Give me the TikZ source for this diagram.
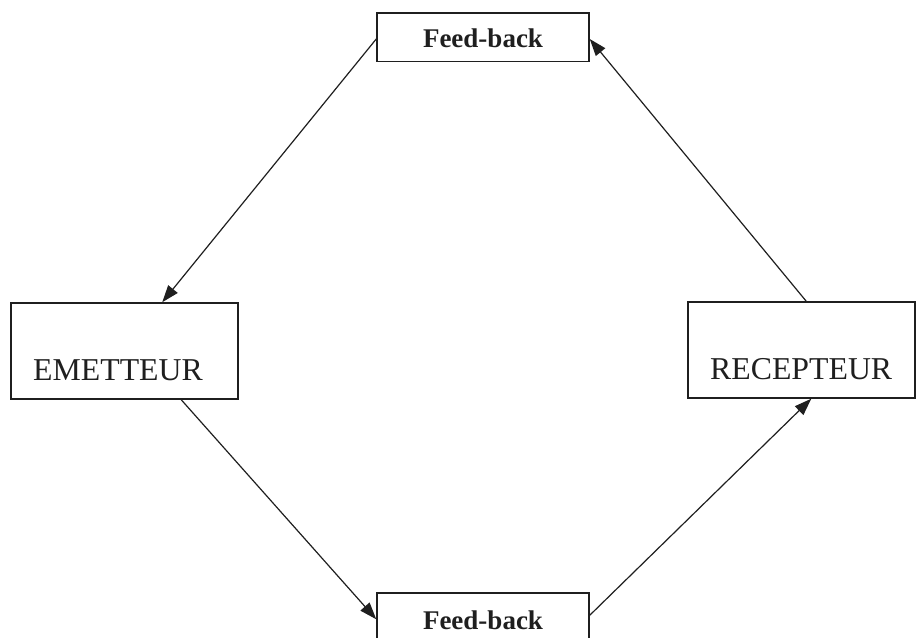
\documentclass[tikz,border=0pt]{standalone}
\usepackage{fontspec}
\setmainfont{Liberation Serif}
\usetikzlibrary{arrows.meta}
\begin{document}
\begin{tikzpicture}[x=1pt,y=-1pt,
  ink/.style={color=black!88},
  box/.style={draw=black!88, line width=1.5pt, rectangle, inner sep=0pt},
  flow/.style={ink, line width=1.2pt, -{Triangle[length=17pt,width=12pt]}},
  bigtext/.style={ink, inner sep=0pt, font=\fontsize{31.8}{36}\selectfont},
  fbtext/.style={ink, inner sep=0pt, font=\fontsize{27}{30}\selectfont\bfseries}]
  \clip (0,0) rectangle (918,637);
  \fill[white] (0,0) rectangle (918,637);

  % the four boxes
  \node[box, minimum width=212pt, minimum height=48.5pt] (fbtop) at (483,37) {};
  \node[box, minimum width=212pt, minimum height=48.5pt] (fbbot) at (483,617.25) {};
  \node[box, minimum width=227pt, minimum height=96pt] (em) at (124.5,351) {};
  \node[box, minimum width=227pt, minimum height=96pt] (rc) at (801.5,350) {};

  % labels
  \node[fbtext, anchor=base] (fbtopt) at (483,47) {Feed-back};
  \node[fbtext, anchor=base] (fbbott) at (483,629) {Feed-back};
  \node[bigtext, anchor=base west] (emt) at (33,380) {EMETTEUR};
  \node[bigtext, anchor=base west] (rct) at (710,379) {RECEPTEUR};

  % the cycle of arrows
  \draw[flow] ([yshift=-2pt]fbtop.west) -- ([xshift=152pt]em.north west);
  \draw[flow] ([xshift=171pt]em.south west) -- ([yshift=-2pt]fbbot.west);
  \draw[flow] ([yshift=2pt]fbbot.east) -- ([xshift=124pt]rc.south west);
  \draw[flow] ([xshift=119pt]rc.north west) -- ([yshift=-2pt]fbtop.east);
\end{tikzpicture}
\end{document}
